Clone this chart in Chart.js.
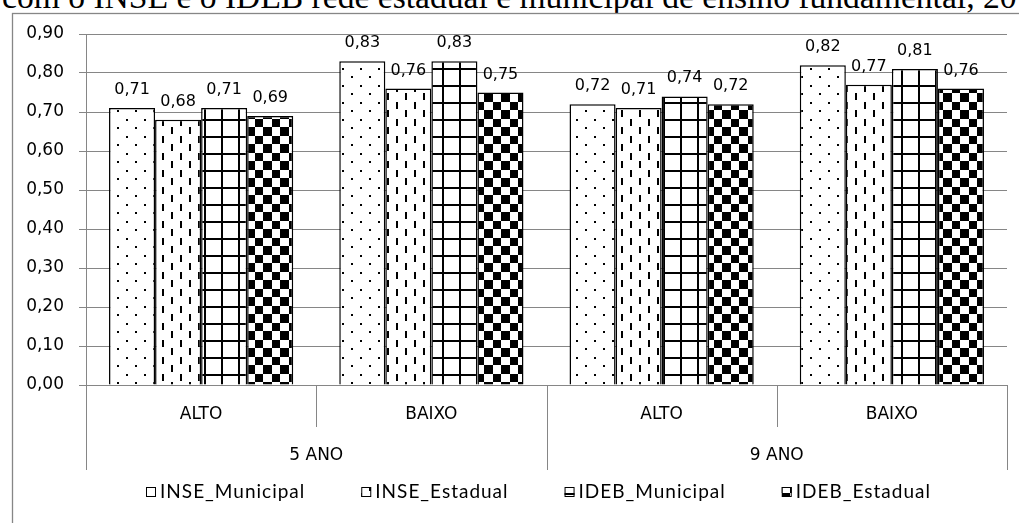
<!DOCTYPE html>
<html>
<head>
<meta charset="utf-8">
<script src="https://cdn.jsdelivr.net/npm/chart.js@4.4.0/dist/chart.umd.min.js"></script>
<style>
  html, body { margin: 0; padding: 0; background: #fff; overflow: hidden; }
  #wrap { position: relative; width: 1019px; height: 523px; overflow: hidden; }
  #titulo {
    position: absolute; left: 2px; top: -20px;
    font-family: 'Liberation Serif', serif; font-size: 33.6px; line-height: 33.6px;
    white-space: nowrap; color: #000;
  }
  canvas { position: absolute; left: 0; top: 0; }
</style>
</head>
<body>
<div id="wrap">
  <div id="titulo">com o INSE e o IDEB rede estadual e municipal de ensino fundamental, 20</div>
  <canvas id="grafico" width="1019" height="523"></canvas>
</div>
<script>
// Categorias do eixo X (nível 1) e agrupamento por ano (nível 2)
const categorias = ['ALTO', 'BAIXO', 'ALTO', 'BAIXO'];
const grupos = ['5 ANO', '9 ANO'];

// Séries
const nomesSeries = ['INSE_Municipal', 'INSE_Estadual', 'IDEB_Municipal', 'IDEB_Estadual'];
const inseMunicipal = [0.71, 0.83, 0.72, 0.82];
const inseEstadual  = [0.68, 0.76, 0.71, 0.77];
const idebMunicipal = [0.71, 0.83, 0.74, 0.81];
const idebEstadual  = [0.69, 0.75, 0.72, 0.76];

// Marcas do eixo Y
const yTicks = [0.00, 0.10, 0.20, 0.30, 0.40, 0.50, 0.60, 0.70, 0.80, 0.90];

const CINZA = '#868686';
const FONTE = "'DejaVu Sans', sans-serif";
const fmt = v => v.toFixed(2).replace('.', ',');

const canvas = document.getElementById('grafico');
const ctx = canvas.getContext('2d');

// Texturas de preenchimento em preto e branco
function textura(w, h, desenha) {
  const c = document.createElement('canvas');
  c.width = w; c.height = h;
  const g = c.getContext('2d');
  g.fillStyle = '#fff'; g.fillRect(0, 0, w, h);
  g.fillStyle = '#000';
  desenha(g, w, h);
  return ctx.createPattern(c, 'repeat');
}
const padPontos = textura(18, 17, g => { g.fillRect(0, 0, 2, 2); g.fillRect(9, 8, 2, 2); });
const padTracos = textura(18, 17, g => { g.fillRect(0, 0, 2, 7); g.fillRect(9, 8, 2, 7); });
const padGrade  = textura(17, 17, g => { g.fillRect(0, 0, 17, 2); g.fillRect(0, 0, 2, 17); });
const padXadrez = textura(34, 34, g => {
  const b = [0, 8, 17, 25, 34];
  for (let i = 0; i < 4; i++) for (let j = 0; j < 4; j++)
    if ((i + j) % 2 === 0) g.fillRect(b[i], b[j], b[i + 1] - b[i], b[j + 1] - b[j]);
});
const padroes = [padPontos, padTracos, padGrade, padXadrez];
const valores = [inseMunicipal, inseEstadual, idebMunicipal, idebEstadual];

// Moldura branca da área do gráfico
const moldura = {
  id: 'moldura',
  beforeDraw(chart) {
    const c = chart.ctx;
    c.save();
    c.fillStyle = '#fff';
    c.fillRect(0, 13, chart.width, chart.height - 13);
    c.strokeStyle = CINZA; c.lineWidth = 1.3;
    c.strokeRect(12.5, 13.5, chart.width + 40, chart.height + 40);
    c.restore();
  }
};

// Rótulos de valor acima das barras
const rotulosValor = {
  id: 'rotulosValor',
  afterDatasetsDraw(chart) {
    const c = chart.ctx;
    c.save();
    c.font = '16px ' + FONTE;
    c.fillStyle = '#000';
    c.textAlign = 'center';
    c.textBaseline = 'alphabetic';
    chart.data.datasets.forEach((ds, i) => {
      chart.getDatasetMeta(i).data.forEach((el, j) => {
        c.fillText(fmt(ds.data[j]), el.x, el.y - 14);
      });
    });
    c.restore();
  }
};

// Eixo de categorias em dois níveis
const eixoCategorias = {
  id: 'eixoCategorias',
  afterDraw(chart) {
    const c = chart.ctx;
    const a = chart.chartArea;
    const x = chart.scales.x;
    const n = categorias.length;
    const passo = x.getPixelForValue(1) - x.getPixelForValue(0);
    c.save();
    c.strokeStyle = CINZA; c.lineWidth = 1;
    for (let i = 0; i <= n; i++) {
      const px = (i < n ? x.getPixelForValue(i) : x.getPixelForValue(n - 1) + passo) - passo / 2;
      const X = Math.round(px) + 0.5;
      c.beginPath();
      c.moveTo(X, a.bottom);
      c.lineTo(X, a.bottom + (i % 2 === 0 ? 85 : 42));
      c.stroke();
    }
    c.fillStyle = '#000';
    c.textAlign = 'center';
    c.textBaseline = 'middle';
    c.font = '17px ' + FONTE;
    categorias.forEach((t, i) => c.fillText(t, x.getPixelForValue(i), a.bottom + 29.5));
    grupos.forEach((t, g) => {
      const cx = (x.getPixelForValue(2 * g) + x.getPixelForValue(2 * g + 1)) / 2;
      c.fillText(t, cx, a.bottom + 70.5);
    });
    c.restore();
  }
};

// Legenda na base
const legenda = {
  id: 'legenda',
  afterDraw(chart) {
    const c = chart.ctx;
    c.save();
    c.font = '19px Lato, sans-serif';
    c.letterSpacing = '1px';
    const caixa = 10, folga = 4, espaco = 56;
    const larguras = nomesSeries.map(t => c.measureText(t).width);
    const total = larguras.reduce((s, w) => s + caixa + folga + w, 0) + espaco * (nomesSeries.length - 1);
    let x0 = Math.round(538 - total / 2);
    const yc = 492;
    c.textBaseline = 'middle';
    c.textAlign = 'left';
    nomesSeries.forEach((t, i) => {
      c.fillStyle = padroes[i];
      c.fillRect(x0, yc - 5, caixa, caixa);
      c.strokeStyle = '#000'; c.lineWidth = 1;
      c.strokeRect(x0 + 0.5, yc - 4.5, caixa - 1, caixa - 1);
      c.fillStyle = '#000';
      c.fillText(t, x0 + caixa + folga, yc);
      x0 += caixa + folga + larguras[i] + espaco;
    });
    c.restore();
  }
};

new Chart(ctx, {
  type: 'bar',
  data: {
    labels: categorias,
    datasets: nomesSeries.map((nome, i) => ({
      label: nome,
      data: valores[i],
      backgroundColor: padroes[i],
      borderColor: '#000',
      borderWidth: 1.5,
      categoryPercentage: 0.8,
      barPercentage: 1.0
    }))
  },
  options: {
    responsive: false,
    animation: false,
    events: [],
    layout: { padding: { left: 0, right: 12, top: 34, bottom: 0 } },
    plugins: { legend: { display: false }, tooltip: { enabled: false }, title: { display: false } },
    scales: {
      x: {
        grid: { display: false },
        border: { display: false },
        ticks: { display: false },
        afterFit: s => { s.height = 138; }
      },
      y: {
        min: 0, max: 0.9,
        afterBuildTicks: s => { s.ticks = yTicks.map(v => ({ value: v })); },
        afterFit: s => { s.width = 86; },
        grid: { color: CINZA, lineWidth: 1, tickLength: 7, drawTicks: true },
        border: { display: true, color: CINZA, width: 1 },
        ticks: {
          padding: 15,
          color: '#000',
          font: { family: FONTE, size: 17 },
          callback: v => fmt(v)
        }
      }
    }
  },
  plugins: [moldura, rotulosValor, eixoCategorias, legenda]
});
</script>
</body>
</html>
